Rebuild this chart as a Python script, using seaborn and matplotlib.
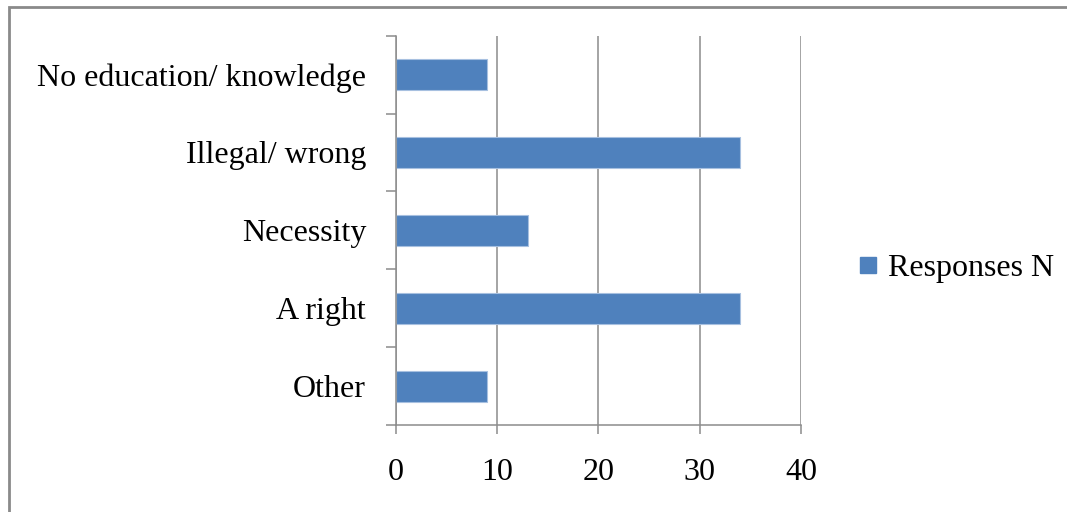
import matplotlib
matplotlib.use("Agg")
import matplotlib.pyplot as plt
import seaborn as sns
import pandas as pd
import numpy as np
from matplotlib.patches import Rectangle
from matplotlib.lines import Line2D

categories = ["No education/ knowledge", "Illegal/ wrong", "Necessity", "A right", "Other"]
responses = [9, 34, 13, 34, 9]
series_name = "Responses N"
x_ticks = [0, 10, 20, 30, 40]

sns.set_theme(style="white")
plt.rcParams["font.family"] = ["Liberation Serif", "DejaVu Serif"]

df = pd.DataFrame({"category": categories, "value": responses})

fig = plt.figure(figsize=(10.67, 5.12), dpi=100)
ax = fig.add_axes([0.3711, 0.1699, 0.3796, 0.7604])

bar_color = "#4F81BD"
sns.barplot(data=df, x="value", y="category", order=categories, color=bar_color,
            saturation=1, width=0.4, edgecolor="#a7c0e0", linewidth=0.8, ax=ax)

ax.set_xlim(0, 40)
ax.set_ylim(len(categories) - 0.5, -0.5)
ax.set_xticks(x_ticks)
ax.set_xticklabels([str(t) for t in x_ticks])
ax.set_xlabel("")
ax.set_ylabel("")

# gridlines
ax.grid(axis="x", color="#8c8c8c", linewidth=1.1)
ax.grid(axis="y", visible=False)
ax.set_axisbelow(True)

# spines
for s in ["top", "right"]:
    ax.spines[s].set_visible(False)
for s in ["left", "bottom"]:
    ax.spines[s].set_color("#8c8c8c")
    ax.spines[s].set_linewidth(1.1)

# category labels at band centres, tick marks at band boundaries
ax.set_yticks(np.arange(len(categories)))
ax.set_yticklabels(categories)
ax.set_yticks(np.arange(len(categories) + 1) - 0.5, minor=True)
ax.tick_params(axis="y", which="major", length=0, pad=21.5, labelsize=23, labelcolor="black")
ax.tick_params(axis="y", which="minor", left=True, length=7, width=1.1, color="#8c8c8c", direction="out")
ax.tick_params(axis="x", which="major", bottom=True, length=6.5, width=1.1, color="#8c8c8c",
               direction="out", pad=17, labelsize=23, labelcolor="black")

# legend
handle = Line2D([], [], marker="s", linestyle="none", markersize=11,
                markerfacecolor=bar_color, markeredgecolor=bar_color)
fig.legend([handle], [series_name], loc="center left", bbox_to_anchor=(0.787, 0.476),
           frameon=False, fontsize=23, handletextpad=0.1, handlelength=1.0,
           borderaxespad=0, labelcolor="black")

# outer chart-area border
fig.patches.append(Rectangle((9 / 1067, -0.05), 1.2, 1 - 7 / 512 + 0.05,
                             transform=fig.transFigure, fill=False,
                             edgecolor="#8a8a8a", linewidth=2.0, zorder=0))

fig.savefig("out.png", dpi=100, facecolor="white")
